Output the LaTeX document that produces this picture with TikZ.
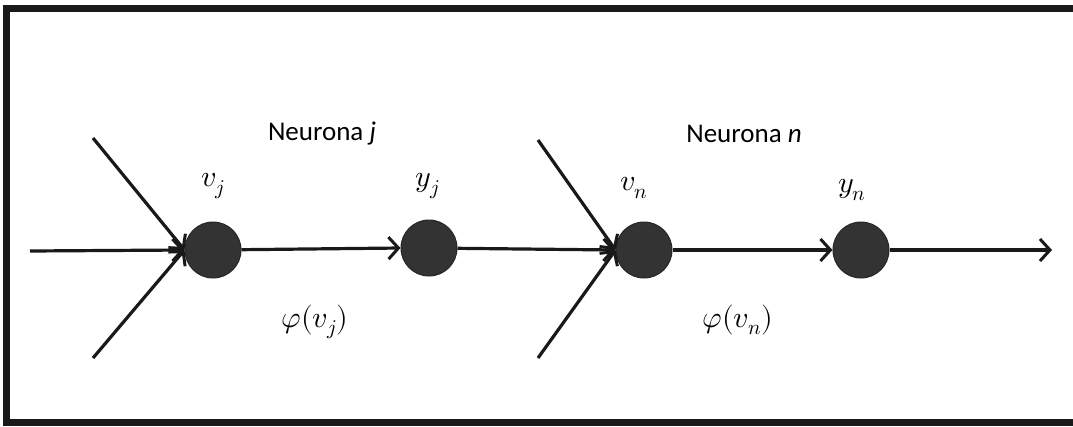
\documentclass[tikz,border=0pt]{standalone}
\usepackage{fontspec}
\setmainfont{Carlito}
\usepackage{unicode-math}
\setmathfont{Latin Modern Math}
\usetikzlibrary{arrows.meta}
\begin{document}
\begin{tikzpicture}[x=1pt,y=-1pt,
  neuron/.style={circle,fill=black!80,draw=black!85,line width=1pt,minimum width=53pt,minimum height=56pt,inner sep=0pt},
  conn/.style={line width=3.2pt,black!90,-{Straight Barb[length=10pt,width=22pt,line width=3pt]}},
  lbl/.style={font=\fontsize{27}{30}\selectfont},
  mlbl/.style={font=\fontsize{30}{32}\selectfont},
  frame/.style={line width=7pt,black!90}]
\useasboundingbox (0,0) rectangle (1073,426);
\draw[frame] (6.5,8.5) -- (1073,8.5);
\draw[frame] (6.5,5) -- (6.5,426);
\draw[frame] (3,422.5) -- (1073,422.5);
% nodes
\node[neuron] (vj) at (213,250) {};
\node[neuron] (yj) at (429,248) {};
\node[neuron] (vn) at (644,250) {};
\node[neuron] (yn) at (861,250) {};
% free ends
\coordinate (in1) at (30,251);
\coordinate (a1) at (93,138);
\coordinate (b1) at (93,358);
\coordinate (a2) at (538,140);
\coordinate (b2) at (538,358);
\coordinate (out) at (1052,250);
% connectors
\draw[conn] (in1) -- (vj.west);
\draw[conn] (a1) -- (vj.west);
\draw[conn] (b1) -- (vj.west);
\draw[conn] (vj) -- (yj.west);
\draw[conn] (yj) -- (vn.west);
\draw[conn] (a2) -- (vn.west);
\draw[conn] (b2) -- (vn.west);
\draw[conn] (vn) -- (yn.west);
\draw[conn] (yn.east) -- (out);
% labels
\node[lbl] (nj) at (322,134) {Neurona \textit{j}};
\node[lbl] (nn) at (744,134) {Neurona \textit{n}};
\node[mlbl] (lvj) at (213,186) {$v_j$};
\node[mlbl] (lyj) at (428,186) {$y_j$};
\node[mlbl] (lvn) at (634,188) {$v_n$};
\node[mlbl] (lyn) at (852,190) {$y_n$};
\node[mlbl] (pj) at (315,322) {$\varphi(v_j)$};
\node[mlbl] (pn) at (738,320) {$\varphi(v_n)$};
\end{tikzpicture}
\end{document}
